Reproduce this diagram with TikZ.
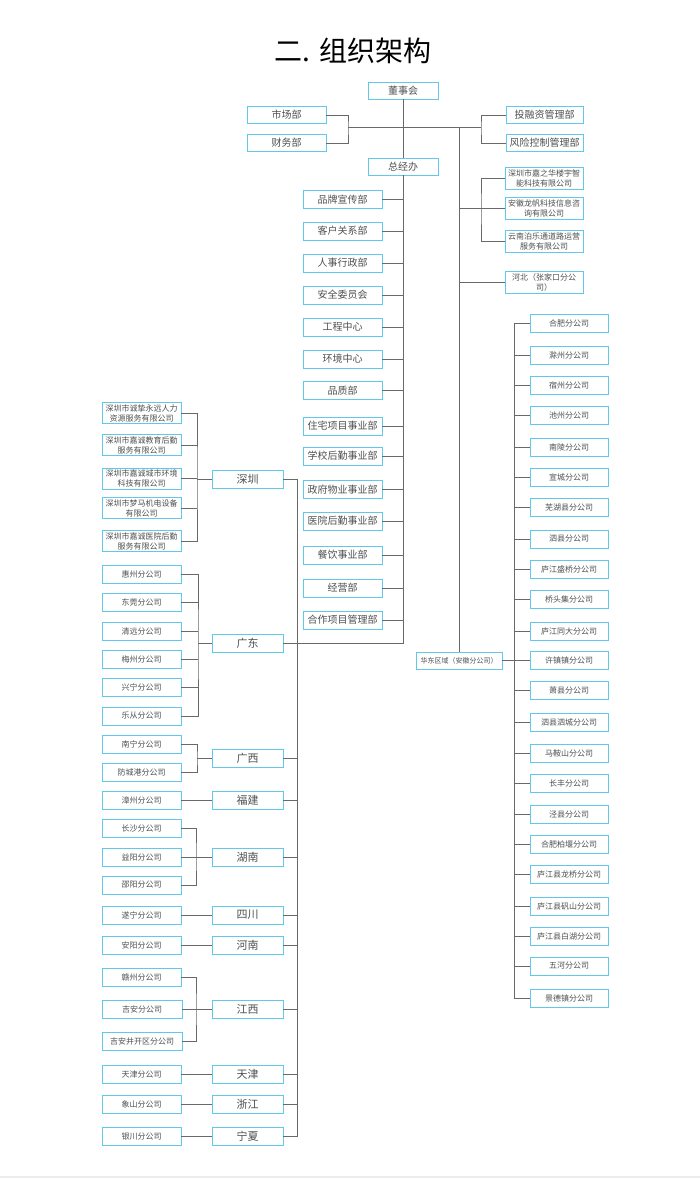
\documentclass[tikz,border=0pt]{standalone}
\usepackage{fontspec}
\setmainfont{Noto Sans CJK SC}
\definecolor{boxblue}{RGB}{95,200,235}
\definecolor{linegray}{RGB}{105,105,105}
\definecolor{txtgray}{RGB}{80,80,80}
\tikzset{
  bx/.style={draw=boxblue, line width=0.9pt, fill=white, text=txtgray, inner sep=0pt, align=center},
  topbox/.style={bx, minimum width=70pt, minimum height=17pt, font=\fontsize{10}{12}\selectfont},
  deptbox/.style={bx, minimum width=79pt, minimum height=18pt, font=\fontsize{10}{12}\selectfont},
  rtbox/.style={bx, minimum width=77pt, minimum height=17pt, font=\fontsize{10}{12}\selectfont},
  twobox/.style={bx, minimum width=78pt, minimum height=22pt, font=\fontsize{8}{10}\selectfont},
  provbox/.style={bx, minimum width=71pt, minimum height=18pt, font=\fontsize{11}{13}\selectfont},
  subbox/.style={bx, minimum width=79pt, minimum height=18pt, font=\fontsize{8}{10}\selectfont},
  hdbox/.style={bx, minimum width=86pt, minimum height=17pt, font=\fontsize{7}{9}\selectfont},
  conn/.style={draw=linegray, line width=0.8pt}
}
\begin{document}
\begin{tikzpicture}[x=1pt,y=-1pt]
\useasboundingbox (0,0) rectangle (700,1179);
\draw[black!7, line width=1.5pt] (0,1177) -- (700,1177);
\node[font=\fontsize{28}{32}\selectfont] (title) at (353,51) {二. 组织架构};

% top level
\node[topbox] (dsh) at (403,90.5) {董事会};
\node[topbox] (zjb) at (403,166.5) {总经办};
\node[deptbox, minimum height=17pt] (sc) at (286.5,115) {市场部};
\node[deptbox, minimum height=17pt] (cw) at (286.5,143) {财务部};
\node[rtbox] (tr) at (544.5,115) {投融资管理部};
\node[rtbox] (fx) at (544.5,143) {风险控制管理部};

% departments
\foreach \t/\y [count=\i] in {品牌宣传部/199.5, 客户关系部/231, 人事行政部/263, 安全委员会/295, 工程中心/327, 环境中心/359, 品质部/390.5, 住宅项目事业部/426, 学校后勤事业部/456, 政府物业事业部/489.5, 医院后勤事业部/521, 餐饮事业部/555, 经营部/588, 合作项目管理部/620}
  \node[deptbox] (d\i) at (342.5,\y) {\t};

% right top companies
\node[twobox] (r1) at (544,178) {深圳市嘉之华楼宇智\\能科技有限公司};
\node[twobox] (r2) at (544,208) {安徽龙帆科技信息咨\\询有限公司};
\node[twobox] (r3) at (544,241.5) {云南泊乐通道路运营\\服务有限公司};
\node[twobox] (hb) at (544,282.5) {河北（张家口分公\\司）};

% east china
\node[hdbox] (hd) at (459,660.5) {华东区域（安徽分公司）};
\foreach \t/\y [count=\i] in {合肥分公司/323, 滁州分公司/355, 宿州分公司/385, 池州分公司/415, 南陵分公司/447, 宣城分公司/477, 芜湖县分公司/507, 泗县分公司/539, 庐江盛桥分公司/569, 桥头集分公司/599, 庐江同大分公司/631, 许镇镇分公司/660.5, 萧县分公司/690.5, 泗县泗城分公司/722, 马鞍山分公司/753, 长丰分公司/783, 泾县分公司/814.5, 合肥柏堰分公司/844.5, 庐江县龙桥分公司/874.5, 庐江县矾山分公司/906, 庐江县白湖分公司/936, 五河分公司/966, 景德镇分公司/998}
  \node[subbox, minimum width=78pt] (a\i) at (569,\y) {\t};

% provinces
\node[provbox] (sz) at (247.5,479) {深圳};
\node[provbox] (gd) at (247.5,643) {广东};
\node[provbox] (gx) at (247.5,758) {广西};
\node[provbox] (fj) at (247.5,800) {福建};
\node[provbox] (hn) at (247.5,857) {湖南};
\node[provbox] (scp) at (247.5,915) {四川};
\node[provbox] (hen) at (247.5,945) {河南};
\node[provbox] (jx) at (247.5,1009) {江西};
\node[provbox] (tj) at (247.5,1074.5) {天津};
\node[provbox] (zj) at (247.5,1104.5) {浙江};
\node[provbox] (nx) at (247.5,1136) {宁夏};

% shenzhen subsidiaries
\node[twobox, minimum width=79pt, minimum height=21pt] (szs1) at (141.5,413) {深圳市诚挚永远人力\\资源服务有限公司};
\node[twobox, minimum width=79pt, minimum height=21pt] (szs2) at (141.5,445) {深圳市嘉诚教育后勤\\服务有限公司};
\node[twobox, minimum width=79pt, minimum height=21pt] (szs3) at (141.5,478.5) {深圳市嘉诚城市环境\\科技有限公司};
\node[twobox, minimum width=79pt, minimum height=21pt] (szs4) at (141.5,508) {深圳市梦马机电设备\\有限公司};
\node[twobox, minimum width=79pt, minimum height=21pt] (szs5) at (141.5,541) {深圳市嘉诚医院后勤\\服务有限公司};

% guangdong
\foreach \t/\y [count=\i] in {惠州分公司/574, 东莞分公司/602, 清远分公司/631, 梅州分公司/659, 兴宁分公司/687, 乐从分公司/716}
  \node[subbox] (gds\i) at (141.5,\y) {\t};
\node[subbox] (gxs1) at (141.5,744) {南宁分公司};
\node[subbox] (gxs2) at (141.5,772) {防城港分公司};
\node[subbox] (fjs1) at (141.5,800) {漳州分公司};
\node[subbox] (hns1) at (141.5,828) {长沙分公司};
\node[subbox] (hns2) at (141.5,857) {益阳分公司};
\node[subbox] (hns3) at (141.5,885) {邵阳分公司};
\node[subbox] (scs1) at (141.5,915) {遂宁分公司};
\node[subbox] (hes1) at (141.5,945) {安阳分公司};
\node[subbox] (jxs1) at (141.5,977) {赣州分公司};
\node[subbox, minimum width=80pt] (jxs2) at (142,1009) {吉安分公司};
\node[subbox, minimum width=80pt] (jxs3) at (142,1041) {吉安井开区分公司};
\node[subbox] (tjs1) at (141.5,1074.5) {天津分公司};
\node[subbox] (zjs1) at (141.5,1104.5) {象山分公司};
\node[subbox] (nxs1) at (141.5,1136) {银川分公司};

% ---------- connectors ----------
\coordinate (bl) at (348,127);
\coordinate (br) at (481,127);
\coordinate (vx) at (459,127);
\coordinate (rb) at (481,208);
\coordinate (px) at (297,0);
\coordinate (ax) at (514,0);

\draw[conn] (dsh.south) -- (zjb.north);
\draw[conn] (sc.east) -| (bl) |- (cw.east);
\draw[conn] (bl) -- (br);
\draw[conn] (tr.west) -| (br) |- (fx.west);
\draw[conn] (vx) -- (hd.north);
\draw[conn] (r1.west) -| (rb) |- (r3.west);
\draw[conn] (r2.west -| vx) -- (r2.west);
\draw[conn] (hb.west -| vx) -- (hb.west);

% general manager trunk
\draw[conn] (zjb.south) |- (gd.east);
\foreach \i in {1,...,14}
  \draw[conn] (d\i.east) -- (d\i.east -| zjb);

% province trunk
\draw[conn] (sz.east) -| (px |- nx.east) -- (nx.east);
\foreach \p in {gx,fj,hn,scp,hen,jx,tj,zj}
  \draw[conn] (\p.east) -- (\p.east -| px);

% east china bracket
\draw[conn] (a1.west) -| (ax |- a23.west) -- (a23.west);
\foreach \i in {2,...,22}
  \draw[conn] (a\i.west) -- (a\i.west -| ax);
\draw[conn] (hd.east) -- (hd.east -| ax);

% shenzhen bracket
\coordinate (szj) at (197,479);
\draw[conn] (szs1.east) -| (szj) |- (szs5.east);
\foreach \i in {2,3,4}
  \draw[conn] (szs\i.east) -- (szs\i.east -| szj);
\draw[conn] (szj) -- (sz.west);

% guangdong bracket
\coordinate (gdj) at (198,643);
\draw[conn] (gds1.east) -| (gdj) |- (gds6.east);
\foreach \i in {2,...,5}
  \draw[conn] (gds\i.east) -- (gds\i.east -| gdj);
\draw[conn] (gdj) -- (gd.west);

% guangxi bracket
\coordinate (gxj) at (197,758);
\draw[conn] (gxs1.east) -| (gxj) |- (gxs2.east);
\draw[conn] (gxj) -- (gx.west);

% hunan bracket
\coordinate (hnj) at (196,857);
\draw[conn] (hns1.east) -| (hnj) |- (hns3.east);
\draw[conn] (hns2.east) -- (hn.west);

% jiangxi bracket
\coordinate (jxj) at (196,1009);
\draw[conn] (jxs1.east) -| (jxj) |- (jxs3.east);
\draw[conn] (jxs2.east) -- (jx.west);

% single links
\draw[conn] (fjs1.east) -- (fj.west);
\draw[conn] (scs1.east) -- (scp.west);
\draw[conn] (hes1.east) -- (hen.west);
\draw[conn] (tjs1.east) -- (tj.west);
\draw[conn] (zjs1.east) -- (zj.west);
\draw[conn] (nxs1.east) -- (nx.west);
\end{tikzpicture}
\end{document}
